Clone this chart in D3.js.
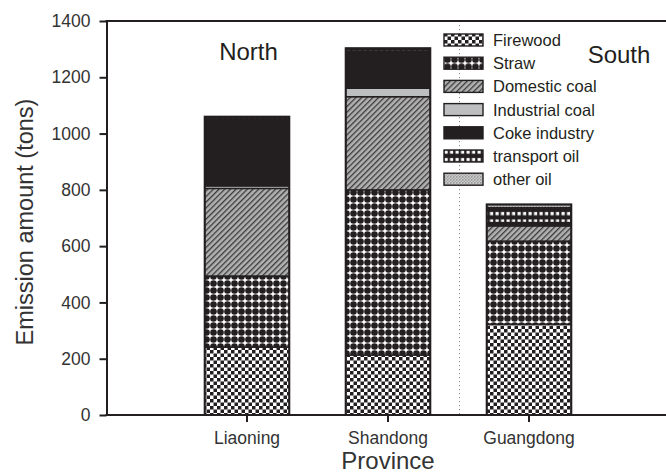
<!DOCTYPE html>
<html>
<head>
<meta charset="utf-8">
<script src="https://cdn.jsdelivr.net/npm/d3@7"></script>
<style>
  html, body { margin: 0; padding: 0; background: #fff; }
  svg { display: block; font-family: "Liberation Sans", Arial, sans-serif; }
</style>
</head>
<body>
<svg id="chart" width="666" height="474"></svg>
<script>
// Emission sources per province (tons)
const provinces = ["Liaoning", "Shandong", "Guangdong"];
const sources = ["Firewood", "Straw", "Domestic coal", "Industrial coal", "Coke industry", "transport oil", "other oil"];
const firewood       = [241, 213, 323];
const straw          = [253, 587, 295];
const domesticCoal   = [311, 331, 54];
const industrialCoal = [9, 30, 0];
const cokeIndustry   = [236, 124, 12];
const transportOil   = [8, 13, 53];
const otherOil       = [2, 5, 11];
const yTicks = [0, 200, 400, 600, 800, 1000, 1200, 1400];

const seriesValues = [firewood, straw, domesticCoal, industrialCoal, cokeIndustry, transportOil, otherOil];
const rows = provinces.map((p, i) => {
  const r = { province: p };
  sources.forEach((s, j) => { r[s] = seriesValues[j][i]; });
  return r;
});

const ink = "#231f20";
const svg = d3.select("#chart");
const defs = svg.append("defs");

// Fill patterns for each emission source
function pat(id, w, h, bg) {
  const p = defs.append("pattern").attr("id", id)
    .attr("patternUnits", "userSpaceOnUse").attr("width", w).attr("height", h);
  p.append("rect").attr("width", w).attr("height", h).attr("fill", bg);
  return p;
}
// Firewood: checkerboard
let p = pat("p-firewood", 7, 7, "#fff");
p.append("rect").attr("x", 0).attr("y", 0).attr("width", 3.5).attr("height", 3.5).attr("fill", ink);
p.append("rect").attr("x", 3.5).attr("y", 3.5).attr("width", 3.5).attr("height", 3.5).attr("fill", ink);
// Straw: dot grid
p = pat("p-straw", 7, 7, "#fff");
p.append("circle").attr("cx", 3.5).attr("cy", 3.5).attr("r", 3.3).attr("fill", ink);
// Domestic coal: diagonal hatch on grey
p = pat("p-domestic", 4, 4, "#b1b1b1").attr("patternTransform", "rotate(45)");
p.append("rect").attr("x", 0).attr("y", 0).attr("width", 1.3).attr("height", 4).attr("fill", "#3a3a3a");
// Transport oil: white dashes on black
p = pat("p-transport", 5.5, 7.5, ink);
p.append("rect").attr("x", 0.5).attr("y", 2).attr("width", 3.2).attr("height", 3.2).attr("fill", "#fff");
// Other oil: fine grey texture
p = pat("p-other", 3, 3, "#d6d6d6");
p.append("rect").attr("x", 0).attr("y", 0).attr("width", 1.5).attr("height", 1.5).attr("fill", "#8a8a8a");
p.append("rect").attr("x", 1.5).attr("y", 1.5).attr("width", 1.5).attr("height", 1.5).attr("fill", "#a0a0a0");

const fills = {
  "Firewood": "url(#p-firewood)",
  "Straw": "url(#p-straw)",
  "Domestic coal": "url(#p-domestic)",
  "Industrial coal": "#bcbec0",
  "Coke industry": ink,
  "transport oil": "url(#p-transport)",
  "other oil": "url(#p-other)"
};

const plotLeft = 106.5, plotRight = 666, plotTop = 21, plotBottom = 415;

const y = d3.scaleLinear().domain([0, 1400]).range([plotBottom, plotTop]);
const x = d3.scaleBand().domain(provinces).range([176.5, 599.5])
  .paddingInner(0.4).paddingOuter(0.2);

const stack = d3.stack().keys(sources)(rows);

// Divider between northern and southern provinces
svg.append("line")
  .attr("x1", 459.5).attr("x2", 459.5).attr("y1", plotTop).attr("y2", plotBottom)
  .attr("stroke", "#8a8a8a").attr("stroke-width", 1).attr("stroke-dasharray", "1.2,2.8");

// Stacked bars
svg.append("g").selectAll("g").data(stack).join("g")
  .attr("fill", d => fills[d.key])
  .selectAll("rect").data(d => d.filter(s => s[1] - s[0] > 0)).join("rect")
  .attr("x", d => x(d.data.province))
  .attr("width", x.bandwidth())
  .attr("y", d => y(d[1]))
  .attr("height", d => y(d[0]) - y(d[1]))
  .attr("stroke", ink).attr("stroke-width", 1.4);

// Outer outline of each bar
svg.append("g").selectAll("rect").data(rows).join("rect")
  .attr("x", d => x(d.province))
  .attr("width", x.bandwidth())
  .attr("y", d => y(d3.sum(sources, s => d[s])))
  .attr("height", d => y(0) - y(d3.sum(sources, s => d[s])))
  .attr("fill", "none").attr("stroke", ink).attr("stroke-width", 2);

// Y axis
const yAxis = svg.append("g").attr("transform", `translate(${plotLeft},0)`)
  .call(d3.axisLeft(y).tickValues(yTicks).tickFormat(d3.format("d"))
    .tickSize(7).tickSizeOuter(0).tickPadding(9));
yAxis.select(".domain").attr("stroke", ink).attr("stroke-width", 2);
yAxis.selectAll(".tick line").attr("stroke", ink).attr("stroke-width", 2);
yAxis.selectAll(".tick text").attr("fill", "#333").attr("font-size", 17.5)
  .attr("font-family", "Liberation Sans, Arial, sans-serif");

// X axis
svg.append("line").attr("x1", plotLeft - 1).attr("x2", plotRight).attr("y1", plotBottom).attr("y2", plotBottom)
  .attr("stroke", ink).attr("stroke-width", 2);
const xAxis = svg.append("g").attr("transform", `translate(0,${plotBottom})`)
  .call(d3.axisBottom(x).tickSize(7).tickSizeOuter(0).tickPadding(10));
xAxis.select(".domain").remove();
xAxis.selectAll(".tick line").attr("stroke", ink).attr("stroke-width", 2);
xAxis.selectAll(".tick text").attr("fill", "#333").attr("font-size", 17.5)
  .attr("font-family", "Liberation Sans, Arial, sans-serif");

// Top frame line
svg.append("line").attr("x1", plotLeft - 1).attr("x2", plotRight).attr("y1", plotTop).attr("y2", plotTop)
  .attr("stroke", ink).attr("stroke-width", 2);

// Axis titles
svg.append("text").attr("x", 388).attr("y", 469).attr("text-anchor", "middle")
  .attr("font-size", 24).attr("fill", "#333").text("Province");
svg.append("text").attr("transform", "translate(33,222) rotate(-90)").attr("text-anchor", "middle")
  .attr("font-size", 23.5).attr("fill", "#333").text("Emission amount (tons)");

// Region labels
svg.append("text").attr("x", 248.5).attr("y", 59.5).attr("text-anchor", "middle")
  .attr("font-size", 24).attr("fill", "#231f20").text("North");
svg.append("text").attr("x", 619).attr("y", 63).attr("text-anchor", "middle")
  .attr("font-size", 24).attr("fill", "#231f20").text("South");

// Legend
const legend = svg.append("g").selectAll("g").data(sources).join("g")
  .attr("transform", (d, i) => `translate(444,${40 + i * 23.2})`);
legend.append("rect").attr("x", 0).attr("y", -6).attr("width", 39).attr("height", 12)
  .attr("fill", d => fills[d]).attr("stroke", ink).attr("stroke-width", 1.4);
legend.append("text").attr("x", 49).attr("y", 6).attr("font-size", 16.5).attr("fill", "#231f20")
  .text(d => d);
</script>
</body>
</html>
